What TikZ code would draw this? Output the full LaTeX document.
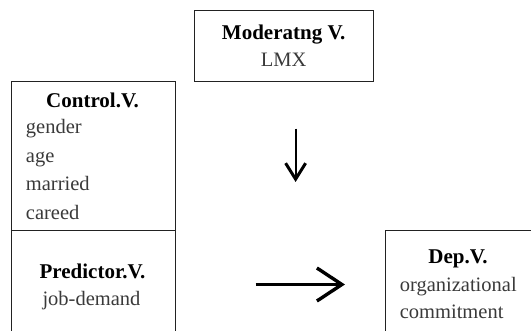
\documentclass[tikz,border=0pt]{standalone}
\usepackage{fontspec}
\setmainfont{Liberation Serif}
\usepackage{xcolor}
\usetikzlibrary{arrows.meta, positioning, calc}

\definecolor{bodygray}{HTML}{3A3A3A}
\definecolor{boxgray}{HTML}{222222}

\begin{document}
\begin{tikzpicture}[x=1pt, y=-1pt,
        head/.style={font=\fontsize{21}{28}\selectfont\bfseries, anchor=base, inner sep=0pt},
        body/.style={font=\fontsize{20.5}{28}\selectfont, text=bodygray, anchor=base, inner sep=0pt},
        box/.style={draw=boxgray, line width=0.8pt}]
        \useasboundingbox (0,0) rectangle (531,331);

        % Moderating box
        \draw[box] (194.4,10) rectangle (373,81);
        \node[head] (modhead) at (283.6,39.6) {Moderatng V.};
        \node[body] (lmx) at (283.6,67) {LMX};

        % Control and predictor boxes
        \draw[box] (11,81) rectangle (175.4,230);
        \draw[box] (11,230) rectangle (175.4,345);
        \node[head] (ctlhead) at (92.5,108) {Control.V.};
        \foreach \w [count=\i] in {gender, age, married, careed}
            \node[body, anchor=base west] (ctl\i) at (25.7,{134+28.5*(\i-1)}) {\w};
        \node[head] (predhead) at (92.5,279) {Predictor.V.};
        \node[body] (jobdem) at (91.5,306) {job-demand};

        % Dependent box
        \draw[box] (385,230) rectangle (545,345);
        \node[head] (dephead) at (458,264) {Dep.V.};
        \node[body, anchor=base west] (orgc) at (399.6,292) {organizational};
        \node[body, anchor=base west] (commit) at (399.6,319) {commitment};

        % Arrows
        \coordinate (modtop) at (295.6,128.7);
        \coordinate (modbot) at (295.6,182);
        \coordinate (predend) at (255.7,284.5);
        \coordinate (depend) at (345,284.5);
        \draw[line width=2pt, -{Straight Barb[length=16pt, width=20pt, line width=3pt]}] (modtop) -- (modbot);
        \draw[line width=2.6pt, -{Straight Barb[length=25pt, width=33pt, line width=3.4pt]}] (predend) -- (depend);

    \end{tikzpicture}
\end{document}
